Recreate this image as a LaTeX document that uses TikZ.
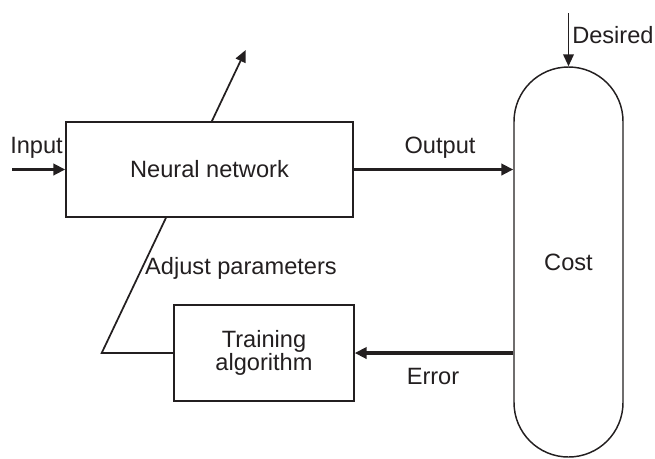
\documentclass[tikz,border=0pt]{standalone}
\usepackage{fontspec}
\setmainfont{Liberation Sans}
\usetikzlibrary{arrows.meta,calc,backgrounds}
\definecolor{ink}{HTML}{231F20}
\begin{document}
\begin{tikzpicture}[x=0.75pt,y=-0.75pt,
  every node/.style={text=ink,font=\fontsize{17.7}{17.4}\selectfont},
  blockbox/.style={draw=ink,fill=white,line width=1.1pt,inner sep=0pt,align=center},
  thickarrow/.style={draw=ink,line width=2.3pt,-{Triangle[length=9pt,width=8.5pt]}},
  thinarrow/.style={draw=ink,line width=1.3pt,-{Triangle[length=9pt,width=8pt]}},
  lbl/.style={inner sep=0pt}]
\useasboundingbox (0,0) rectangle (655,458);
\node[blockbox,minimum width=215.25pt,minimum height=71.25pt] (nn) at (209.5,169.5) {Neural network};
\node[blockbox,minimum width=135pt,minimum height=72pt] (ta) at (264,353) {Training\\algorithm};
\node[blockbox,rounded corners=40.8pt,minimum width=81.75pt,minimum height=292.5pt] (cost) at (568.5,262) {Cost};
\coordinate (in) at (12,169.5);
\coordinate (des) at (568.5,13);
\coordinate (corner) at (101.7,353);
\coordinate (tip) at (245.7,50);
\draw[thickarrow] (in) -- (nn.west);
\draw[thickarrow] (nn.east) -- (nn.east -| cost.west);
\draw[thinarrow] (des) -- (cost.north);
\draw[thickarrow] (ta.east -| cost.west) -- (ta.east);
\begin{scope}[on background layer]
\draw[thinarrow] (ta.west) -- (corner) -- (tip);
\end{scope}
\node[lbl] (linput) at (36.5,148) {Input};
\node[lbl] (loutput) at (440,148) {Output};
\node[lbl,anchor=west] (ldes) at (572,35) {Desired};
\node[lbl] (lerr) at (433,376) {Error};
\node[lbl] (ladj) at (241,268) {Adjust parameters};
\end{tikzpicture}
\end{document}
